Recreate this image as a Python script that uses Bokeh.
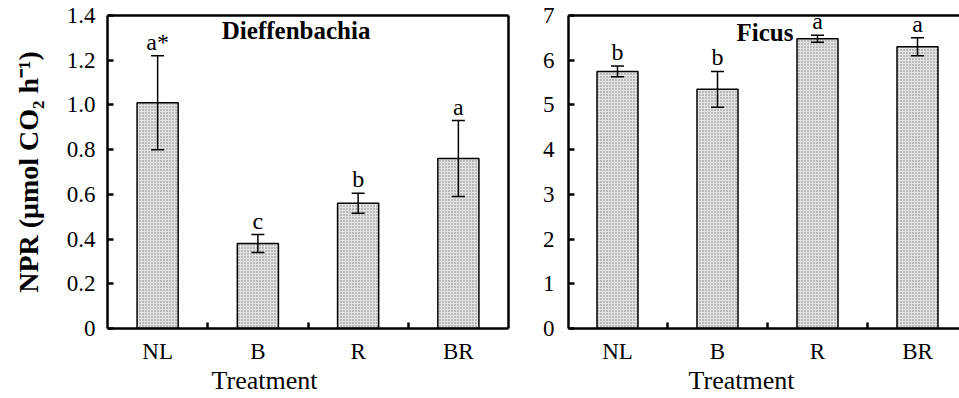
from bokeh.plotting import figure
from bokeh.models import (Range1d, FixedTicker, LinearAxis, Whisker, ColumnDataSource,
                          TeeHead, Label, Title)
from bokeh.layouts import row
from bokeh.embed import file_html
from bokeh.resources import INLINE
from bokeh.core.properties import value

# ---- data ----
treatments = ["NL", "B", "R", "BR"]
dief_npr = [1.01, 0.38, 0.56, 0.76]
dief_err = [0.21, 0.04, 0.045, 0.17]
dief_letters = ["a*", "c", "b", "a"]
ficus_npr = [5.75, 5.35, 6.48, 6.30]
ficus_err = [0.12, 0.40, 0.08, 0.20]
ficus_letters = ["b", "b", "a", "a"]
dief_yticks = [0, 0.2, 0.4, 0.6, 0.8, 1.0, 1.2, 1.4]
dief_ytick_labels = ["0", "0.2", "0.4", "0.6", "0.8", "1.0", "1.2", "1.4"]
ficus_yticks = [0, 1, 2, 3, 4, 5, 6, 7]
ficus_ytick_labels = ["0", "1", "2", "3", "4", "5", "6", "7"]

FONT = "Liberation Serif"
TICK_FS = "23px"


def blank_axis():
    ax = LinearAxis(ticker=FixedTicker(ticks=[]), axis_line_width=2.5,
                    major_tick_line_color=None, minor_tick_line_color=None,
                    major_label_text_font_size="0px", major_label_standoff=0)
    return ax


def panel(vals, errs, letters, yticks, ylabels, ymax, title, title_x, title_y, title_align,
          width, border_left, border_right, x_start, x_end, treat_offset, ytick_standoff,
          ylabel=None):
    xs = list(range(len(treatments)))
    src = ColumnDataSource(dict(
        x=xs, top=vals,
        upper=[v + e for v, e in zip(vals, errs)],
        lower=[v - e for v, e in zip(vals, errs)],
        lab=letters))
    p = figure(width=width, height=398, x_range=Range1d(x_start, x_end),
               y_range=Range1d(0, ymax), output_backend="svg", toolbar_location=None,
               min_border_left=border_left, min_border_right=border_right,
               min_border_top=15, min_border_bottom=70,
               x_axis_location=None, y_axis_location=None)
    p.outline_line_color = None
    p.grid.visible = False
    p.background_fill_color = "white"

    p.vbar(x="x", top="top", bottom=0, width=0.41, source=src,
           fill_color="#e3e3e3", line_color="black", line_width=1.5,
           hatch_pattern="dot", hatch_color="#7a7a7a", hatch_scale=3, hatch_weight=1)
    w = Whisker(source=src, base="x", upper="upper", lower="lower",
                line_width=1.5, line_color="black", level="overlay",
                upper_head=TeeHead(size=13, line_width=1.5, line_color="black"),
                lower_head=TeeHead(size=13, line_width=1.5, line_color="black"))
    p.add_layout(w)
    p.text(x="x", y="upper", text="lab", source=src, text_align="center",
           text_baseline="bottom", y_offset=-1, text_font=value(FONT),
           text_font_size="24px", text_color="black")

    # x axis
    xax = LinearAxis(ticker=FixedTicker(ticks=xs, minor_ticks=[0.5, 1.5, 2.5]),
                     major_label_overrides={i: t for i, t in enumerate(treatments)},
                     axis_line_width=2.5, major_tick_in=0, major_tick_out=0,
                     minor_tick_in=6, minor_tick_out=0, minor_tick_line_width=2.5,
                     major_label_text_font=FONT, major_label_text_font_size=TICK_FS,
                     major_label_text_color="black", major_label_standoff=10)
    p.add_layout(xax, "below")
    p.add_layout(Title(text="Treatment", align="left", offset=treat_offset,
                       text_font=FONT, text_font_size="26px", text_font_style="normal",
                       text_color="black", standoff=-6), "below")

    yax = LinearAxis(ticker=FixedTicker(ticks=yticks),
                     major_label_overrides={t: l for t, l in zip(yticks, ylabels)},
                     axis_line_width=2.5, major_tick_in=6, major_tick_out=0,
                     major_tick_line_width=2.5, minor_tick_line_color=None,
                     major_label_text_font=FONT, major_label_text_font_size=TICK_FS,
                     major_label_text_color="black", major_label_standoff=ytick_standoff)
    if ylabel:
        yax.axis_label = ylabel
        yax.axis_label_text_font = FONT
        yax.axis_label_text_font_size = "28px"
        yax.axis_label_text_font_style = "bold"
        yax.axis_label_text_color = "black"
        yax.axis_label_standoff = 20
    p.add_layout(yax, "left")
    p.add_layout(blank_axis(), "above")
    if border_right:
        p.add_layout(blank_axis(), "right")

    p.add_layout(Label(x=title_x, y=title_y, text=title, text_font=FONT,
                       text_font_size="25px", text_font_style="bold", text_color="black",
                       text_align=title_align, text_baseline="alphabetic"))
    return p


left = panel(dief_npr, dief_err, dief_letters, dief_yticks, dief_ytick_labels, 1.4,
             "Dieffenbachia", 0.64, 1.335, "left", 530, 107, 22, -0.5, 3.5, 104, 12,
             ylabel="NPR (\u03bcmol CO\u2082 h\u207b\u00b9)")
right = panel(ficus_npr, ficus_err, ficus_letters, ficus_yticks, ficus_ytick_labels, 7,
              "Ficus", 1.76, 6.62, "right", 429, 38, 0, -0.49, 3.42, 120, 14)

layout = row(left, right)
open("out.html", "w").write(file_html(layout, INLINE))
